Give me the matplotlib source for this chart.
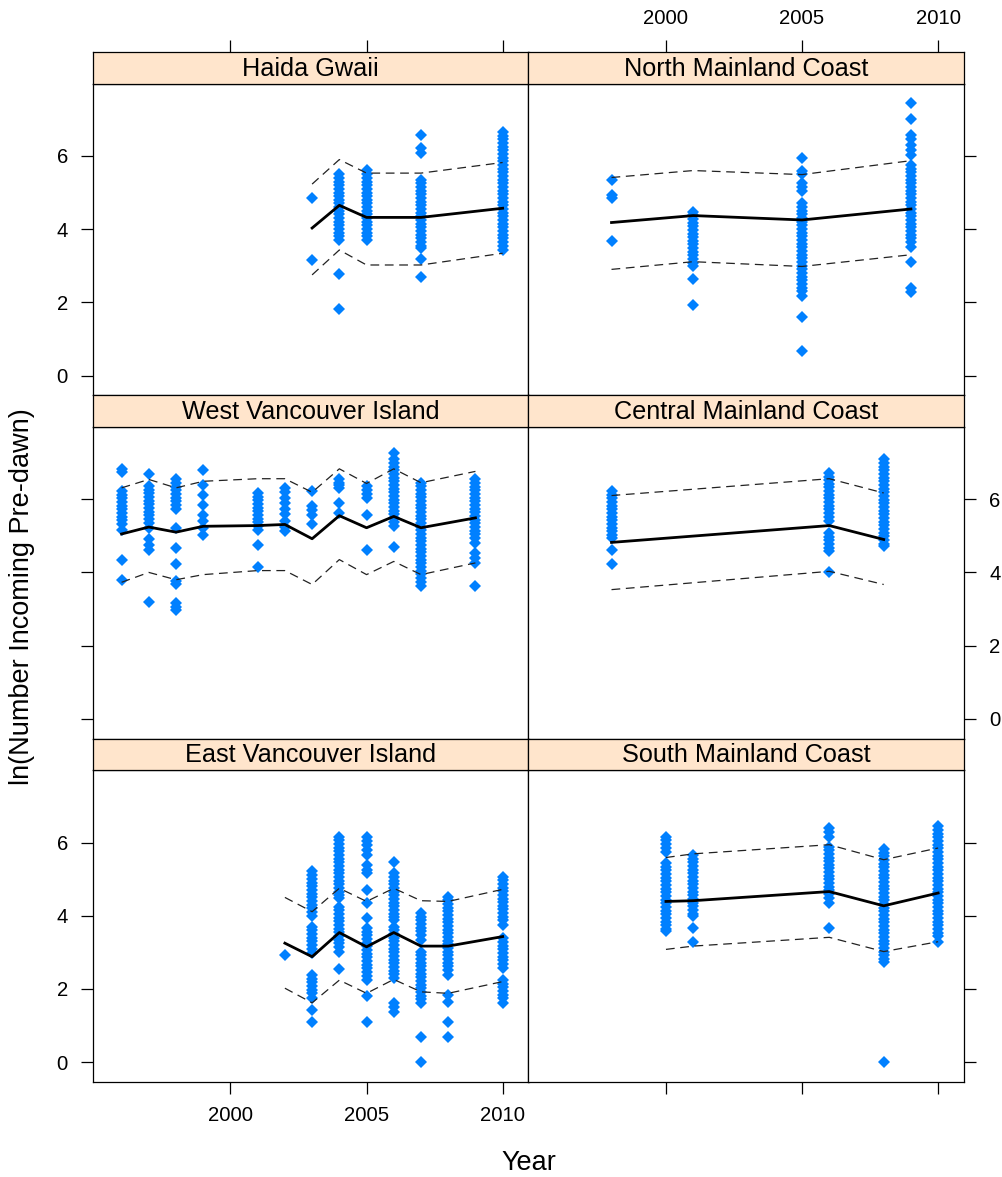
import matplotlib
matplotlib.use("Agg")
import matplotlib.pyplot as plt

plt.rcParams['font.family'] = ['Liberation Sans', 'DejaVu Sans']

W, H = 1003, 1177
PT_COLOR = "#0080ff"
STRIP_COLOR = "#ffe5cc"
X_LIM = (1994.95, 2010.95)
Y_LIM = (-0.54, 7.97)
X_TICKS = [2000, 2005, 2010]
Y_TICKS = [0, 2, 4, 6]

# ---- Haida Gwaii ----
HG_YEARS = [2003, 2004, 2005, 2007, 2010]
HG_PTS = [
    [4.85, 3.16],
    [5.5, 5.4, 5.3, 5.2, 5.1, 5.0, 4.9, 4.8, 4.7, 4.6, 4.5, 4.4, 4.3, 4.2, 4.1, 4.0, 3.9, 3.8, 3.71, 2.77, 1.81],
    [5.62, 5.5, 5.4, 5.3, 5.2, 5.1, 5.0, 4.9, 4.8, 4.7, 4.6, 4.5, 4.4, 4.3, 4.2, 4.1, 4.0, 3.9, 3.8, 3.71],
    [6.56, 6.21, 6.08, 5.35, 5.25, 5.15, 5.05, 4.95, 4.85, 4.75, 4.65, 4.55, 4.45, 4.35, 4.25, 4.15,
     4.05, 3.95, 3.85, 3.75, 3.65, 3.55, 3.48, 3.19, 2.69],
    [6.64, 6.55, 6.45, 6.35, 6.25, 6.15, 6.05, 5.95, 5.85, 5.75, 5.65, 5.55, 5.45, 5.35, 5.25, 5.15,
     5.05, 4.95, 4.85, 4.75, 4.65, 4.55, 4.45, 4.35, 4.25, 4.15, 4.05, 3.95, 3.85, 3.75, 3.65, 3.55, 3.43],
]
HG_MEAN = [4.03, 4.65, 4.32, 4.32, 4.57]
HG_HI = [5.23, 5.9, 5.53, 5.53, 5.82]
HG_LO = [2.75, 3.43, 3.02, 3.02, 3.34]

# ---- North Mainland Coast ----
NM_YEARS = [1998, 2001, 2005, 2009]
NM_PTS = [
    [5.35, 4.94, 4.85, 3.68],
    [4.48, 4.38, 4.28, 4.18, 4.08, 3.98, 3.88, 3.78, 3.68, 3.58, 3.48, 3.38, 3.28, 3.18, 3.08, 2.98, 2.64, 1.93],
    [5.94, 5.6, 5.5, 5.26, 5.15, 5.03, 4.71, 4.6, 4.5, 4.4, 4.3, 4.2, 4.1, 4.0, 3.9, 3.8, 3.7, 3.6, 3.5,
     3.4, 3.3, 3.2, 3.1, 3.0, 2.9, 2.8, 2.7, 2.6, 2.5, 2.4, 2.3, 2.18, 1.61, 0.67],
    [7.45, 7.01, 6.58, 6.45, 6.3, 6.15, 6.03, 5.76, 5.65, 5.55, 5.45, 5.35, 5.25, 5.15, 5.05, 4.95, 4.85,
     4.75, 4.65, 4.55, 4.45, 4.35, 4.25, 4.15, 4.05, 3.95, 3.85, 3.75, 3.65, 3.52, 3.09, 2.39, 2.29],
]
NM_MEAN = [4.18, 4.37, 4.25, 4.55]
NM_HI = [5.41, 5.6, 5.49, 5.87]
NM_LO = [2.9, 3.11, 2.98, 3.3]

# ---- West Vancouver Island ----
WV_YEARS = [1996, 1997, 1998, 1999, 2001, 2002, 2003, 2004, 2005, 2006, 2007, 2009]
WV_PTS = [
    [6.82, 6.75, 6.22, 6.12, 6.02, 5.92, 5.82, 5.72, 5.62, 5.52, 5.42, 5.32, 5.17, 4.35, 3.78],
    [6.68, 6.36, 6.26, 6.16, 6.06, 5.96, 5.86, 5.76, 5.66, 5.56, 5.46, 5.36, 5.22, 4.9, 4.75, 4.62, 3.19],
    [6.54, 6.44, 6.34, 6.24, 6.14, 6.04, 5.94, 5.84, 5.72, 5.22, 4.67, 4.24, 3.76, 3.67, 3.17, 3.05, 2.98],
    [6.79, 6.4, 6.12, 5.85, 5.58, 5.4, 5.22, 5.03],
    [6.17, 6.07, 5.97, 5.87, 5.77, 5.67, 5.57, 5.47, 5.37, 5.27, 5.17, 4.76, 4.15],
    [6.31, 6.2, 6.04, 5.9, 5.72, 5.6, 5.4, 5.25, 5.12],
    [6.22, 5.81, 5.7, 5.58, 5.31],
    [6.54, 6.45, 6.38, 6.31, 5.9, 5.63],
    [6.36, 6.25, 6.14, 6.04, 5.58, 4.61],
    [7.27, 7.09, 6.99, 6.89, 6.79, 6.69, 6.59, 6.49, 6.39, 6.29, 6.19, 6.09, 5.99, 5.89, 5.79, 5.69,
     5.59, 5.49, 5.39, 5.26, 4.69],
    [6.45, 6.35, 6.25, 6.15, 6.05, 5.95, 5.85, 5.75, 5.65, 5.55, 5.45, 5.35, 5.25, 5.15, 5.05, 4.95,
     4.85, 4.75, 4.65, 4.55, 4.45, 4.35, 4.25, 4.15, 4.05, 3.95, 3.85, 3.75, 3.62],
    [6.54, 6.44, 6.34, 6.24, 6.14, 6.04, 5.94, 5.84, 5.74, 5.64, 5.54, 5.44, 5.34, 5.24, 5.14, 5.04,
     4.94, 4.81, 4.53, 4.4, 4.26, 3.62],
]
WV_MEAN = [5.05, 5.24, 5.1, 5.26, 5.28, 5.31, 4.92, 5.55, 5.22, 5.53, 5.22, 5.49]
WV_HI = [6.31, 6.54, 6.31, 6.49, 6.56, 6.56, 6.19, 6.83, 6.43, 6.83, 6.45, 6.76]
WV_LO = [3.73, 4.0, 3.8, 3.94, 4.05, 4.05, 3.67, 4.35, 3.94, 4.3, 3.94, 4.26]

# ---- Central Mainland Coast ----
CM_YEARS = [1998, 2006, 2008]
CM_PTS = [
    [6.22, 6.12, 6.02, 5.92, 5.82, 5.72, 5.62, 5.52, 5.42, 5.32, 5.22, 5.12, 5.02, 4.94, 4.62, 4.23],
    [6.72, 6.62, 6.52, 6.42, 6.32, 6.22, 6.12, 6.02, 5.92, 5.82, 5.72, 5.62, 5.52, 5.4,
     5.08, 4.98, 4.88, 4.78, 4.68, 4.58, 4.01],
    [7.09, 6.99, 6.89, 6.79, 6.69, 6.59, 6.49, 6.39, 6.29, 6.19, 6.09, 5.99, 5.89, 5.79, 5.69, 5.59,
     5.49, 5.39, 5.29, 5.19, 5.09, 4.99, 4.89, 4.79, 4.71],
]
CM_MEAN = [4.82, 5.28, 4.9]
CM_HI = [6.1, 6.56, 6.17]
CM_LO = [3.53, 4.03, 3.67]

# ---- East Vancouver Island ----
EV_YEARS = [2002, 2003, 2004, 2005, 2006, 2007, 2008, 2010]
EV_PTS = [
    [2.93],
    [5.21, 5.1, 5.0, 4.9, 4.8, 4.7, 4.6, 4.5, 4.4, 4.3, 4.2, 4.1, 3.98, 3.7, 3.6, 3.5, 3.4, 3.3, 3.2,
     3.1, 2.97, 2.38, 2.28, 2.18, 2.08, 1.98, 1.88, 1.74, 1.42, 1.1],
    [6.16, 6.06, 5.96, 5.86, 5.76, 5.66, 5.56, 5.46, 5.36, 5.26, 5.16, 5.06, 4.96, 4.86, 4.76, 4.66,
     4.56, 4.48, 4.25, 4.15, 4.05, 3.95, 3.85, 3.75, 3.65, 3.55, 3.45, 3.35, 3.25, 3.15, 3.02, 2.54],
    [6.16, 6.05, 5.93, 5.8, 5.66, 5.39, 5.25, 5.16, 4.71, 4.34, 3.93, 3.66, 3.56, 3.46, 3.36, 3.26,
     3.16, 3.06, 2.96, 2.86, 2.76, 2.66, 2.56, 2.46, 2.36, 2.24, 1.81, 1.1],
    [5.48, 5.16, 5.06, 4.96, 4.86, 4.76, 4.66, 4.56, 4.46, 4.36, 4.26, 4.16, 4.06, 3.96, 3.88, 3.7,
     3.6, 3.5, 3.4, 3.3, 3.2, 3.1, 3.0, 2.9, 2.8, 2.7, 2.6, 2.5, 2.4, 2.29, 1.62, 1.5, 1.38],
    [4.07, 3.97, 3.87, 3.77, 3.67, 3.57, 3.47, 3.34, 3.02, 2.92, 2.82, 2.72, 2.62, 2.52, 2.42, 2.32,
     2.22, 2.12, 2.02, 1.92, 1.82, 1.72, 1.61, 0.69, 0.01],
    [4.52, 4.42, 4.32, 4.22, 4.12, 4.02, 3.92, 3.82, 3.72, 3.62, 3.52, 3.42, 3.32, 3.22, 3.12, 3.02,
     2.92, 2.82, 2.72, 2.62, 2.52, 2.38, 1.83, 1.65, 1.1, 0.68],
    [5.07, 4.97, 4.87, 4.77, 4.67, 4.57, 4.47, 4.37, 4.27, 4.17, 4.07, 3.97, 3.87, 3.75, 3.38, 3.28,
     3.18, 3.08, 2.98, 2.88, 2.78, 2.68, 2.56, 2.24, 2.14, 2.04, 1.94, 1.84, 1.74, 1.61],
]
EV_MEAN = [3.25, 2.88, 3.54, 3.15, 3.54, 3.17, 3.17, 3.43]
EV_HI = [4.5, 4.11, 4.75, 4.39, 4.75, 4.41, 4.39, 4.72]
EV_LO = [2.02, 1.62, 2.24, 1.88, 2.26, 1.92, 1.88, 2.2]

# ---- South Mainland Coast ----
SM_YEARS = [2000, 2001, 2006, 2008, 2010]
SM_PTS = [
    [6.16, 6.06, 5.96, 5.86, 5.75, 5.44, 5.34, 5.24, 5.14, 5.04, 4.94, 4.84, 4.74, 4.64, 4.54, 4.44,
     4.34, 4.24, 4.14, 4.04, 3.94, 3.84, 3.74, 3.64, 3.57],
    [5.66, 5.56, 5.46, 5.36, 5.26, 5.16, 5.06, 4.96, 4.86, 4.76, 4.66, 4.56, 4.46, 4.36, 4.26, 4.16,
     4.06, 3.98, 3.66, 3.29],
    [6.39, 6.28, 6.16, 5.89, 5.79, 5.69, 5.59, 5.49, 5.39, 5.29, 5.19, 5.09, 4.99, 4.89, 4.79, 4.69,
     4.59, 4.49, 4.34, 3.66],
    [5.82, 5.72, 5.62, 5.52, 5.42, 5.32, 5.22, 5.12, 5.02, 4.92, 4.82, 4.72, 4.62, 4.52, 4.42, 4.32,
     4.22, 4.12, 4.02, 3.92, 3.82, 3.72, 3.62, 3.52, 3.42, 3.32, 3.22, 3.12, 3.02, 2.92, 2.82, 2.74, 0.01],
    [6.44, 6.34, 6.24, 6.14, 6.04, 5.94, 5.84, 5.74, 5.64, 5.54, 5.44, 5.34, 5.24, 5.14, 5.04, 4.94,
     4.84, 4.74, 4.64, 4.54, 4.44, 4.34, 4.24, 4.14, 4.04, 3.94, 3.84, 3.74, 3.64, 3.54, 3.44, 3.29],
]
SM_MEAN = [4.39, 4.41, 4.66, 4.27, 4.62]
SM_HI = [5.59, 5.69, 5.94, 5.53, 5.85]
SM_LO = [3.08, 3.17, 3.41, 3.02, 3.29]

# layout in pixels
COL_X = [(93, 528.5), (528.5, 964)]
TOP = 52
STRIP_H = 31.8
PANEL_H = 311.5

TICK_LEN = 8.6
TICK_W = 0.9
TICK_FS = 14.6
STRIP_FS = 18.2
LAB_FS = 19.5


def rect(x0, y0, x1, y1):
    return [x0 / W, 1 - y1 / H, (x1 - x0) / W, (y1 - y0) / H]


fig = plt.figure(figsize=(W / 100, H / 100), dpi=100)

panels = [
    ("Haida Gwaii", 0, 0, HG_YEARS, HG_PTS, HG_MEAN, HG_HI, HG_LO),
    ("North Mainland Coast", 1, 0, NM_YEARS, NM_PTS, NM_MEAN, NM_HI, NM_LO),
    ("West Vancouver Island", 0, 1, WV_YEARS, WV_PTS, WV_MEAN, WV_HI, WV_LO),
    ("Central Mainland Coast", 1, 1, CM_YEARS, CM_PTS, CM_MEAN, CM_HI, CM_LO),
    ("East Vancouver Island", 0, 2, EV_YEARS, EV_PTS, EV_MEAN, EV_HI, EV_LO),
    ("South Mainland Coast", 1, 2, SM_YEARS, SM_PTS, SM_MEAN, SM_HI, SM_LO),
]

for title, col, row, years, pts, mean, hi, lo in panels:
    x0, x1 = COL_X[col]
    ys = TOP + row * (STRIP_H + PANEL_H)
    yp = ys + STRIP_H

    ax = fig.add_axes(rect(x0, yp, x1, yp + PANEL_H))
    for yr, vals in zip(years, pts):
        ax.plot([yr] * len(vals), vals, ls="none", marker="D", ms=6.0,
                mfc=PT_COLOR, mec=PT_COLOR, mew=0, zorder=2)
    ax.plot(years, mean, color="black", lw=2.0, zorder=3)
    ax.plot(years, hi, color="#222222", lw=0.9, ls=(0, (7, 4.5)), zorder=3)
    ax.plot(years, lo, color="#222222", lw=0.9, ls=(0, (7, 4.5)), zorder=3)
    ax.set_xlim(*X_LIM)
    ax.set_ylim(*Y_LIM)
    ax.set_xticks(X_TICKS)
    ax.set_yticks(Y_TICKS)
    for s in ax.spines.values():
        s.set_linewidth(0.9)

    # y ticks on the outer side; labels alternate left/right by row
    lab_left = col == 0 and row != 1
    lab_right = col == 1 and row == 1
    ax.tick_params(axis="y", direction="out", length=TICK_LEN, width=TICK_W,
                   left=(col == 0), right=(col == 1),
                   labelleft=lab_left, labelright=lab_right,
                   labelsize=TICK_FS, pad=9.5)
    ax.tick_params(axis="x", direction="out", length=TICK_LEN, width=TICK_W,
                   bottom=(row == 2), top=False, labelbottom=(row == 2 and col == 0),
                   labelsize=TICK_FS, pad=8.5)

    sx = fig.add_axes(rect(x0, ys, x1, yp))
    sx.set_facecolor(STRIP_COLOR)
    sx.set_xlim(*X_LIM)
    sx.set_ylim(0, 1)
    sx.set_yticks([])
    for s in sx.spines.values():
        s.set_linewidth(0.9)
    sx.text(0.5, 0.47, title, transform=sx.transAxes, ha="center", va="center",
            fontsize=STRIP_FS)
    if row == 0:
        sx.set_xticks(X_TICKS)
        sx.tick_params(axis="x", direction="out", length=TICK_LEN, width=TICK_W,
                       top=True, bottom=False, labeltop=(col == 1), labelbottom=False,
                       labelsize=TICK_FS, pad=8.5)
    else:
        sx.set_xticks([])

fig.text(22 / W, 1 - 597 / H, "ln(Number Incoming Pre-dawn)", rotation=90,
         ha="center", va="center", fontsize=LAB_FS)
fig.text(528.5 / W, 1 - 1163 / H, "Year", ha="center", va="center", fontsize=LAB_FS)

fig.savefig("out.png", dpi=100)
